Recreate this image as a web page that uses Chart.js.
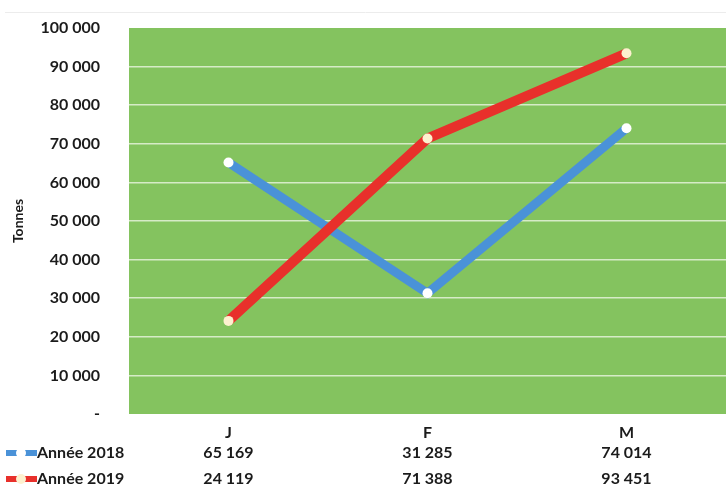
<!DOCTYPE html>
<html>
<head>
<meta charset="utf-8">
<script src="https://cdn.jsdelivr.net/npm/chart.js@4"></script>
<style>
  html, body { margin: 0; padding: 0; background: #fff; overflow: hidden; }
  #wrap { width: 726px; height: 492px; position: relative; }
  canvas { display: block; }
</style>
</head>
<body>
<div id="wrap"><canvas id="c" width="726" height="492"></canvas></div>
<script>
const months = ['J', 'F', 'M'];
const series2018 = [65169, 31285, 74014];
const series2019 = [24119, 71388, 93451];
const seriesNames = ['Année 2018', 'Année 2019'];
const yTicks = [0, 10000, 20000, 30000, 40000, 50000, 60000, 70000, 80000, 90000, 100000];

const FONT = 'Lato, "Open Sans", sans-serif';
const TEXT = '#1b1b1b';
const BLUE = '#4a92d8';
const RED = '#e8302b';
const PLOT_BG = '#84c35f';

function fmt(v) {
  if (v === 0) return '-';
  return String(v).replace(/\B(?=(\d{3})+(?!\d))/g, ' ');
}

// axes keep no extra edge padding, so the plot spans exactly the layout box
function noEdgePadding(s) {
  s.paddingTop = 0; s.paddingBottom = 0; s.paddingLeft = 0; s.paddingRight = 0;
}

// green plot background + faint rule above the chart
const backdrop = {
  id: 'backdrop',
  beforeDraw(chart) {
    const { ctx, chartArea: a } = chart;
    ctx.save();
    ctx.fillStyle = PLOT_BG;
    ctx.fillRect(a.left, a.top, a.right - a.left, a.bottom - a.top);
    ctx.strokeStyle = '#ececec';
    ctx.lineWidth = 1;
    ctx.beginPath();
    ctx.moveTo(5, 12.5);
    ctx.lineTo(726, 12.5);
    ctx.stroke();
    ctx.restore();
  }
};

// data table under the axis, with legend keys
const dataTable = {
  id: 'dataTable',
  afterDraw(chart) {
    const { ctx } = chart;
    const xs = chart.scales.x;
    const rows = [
      { name: seriesNames[0], vals: series2018, line: BLUE, dot: '#ffffff', y: 453 },
      { name: seriesNames[1], vals: series2019, line: RED, dot: '#fdf1cf', y: 479 }
    ];
    ctx.save();
    ctx.font = 'bold 16px ' + FONT;
    ctx.fillStyle = TEXT;
    ctx.textBaseline = 'middle';
    rows.forEach(r => {
      // key
      ctx.strokeStyle = r.line;
      ctx.lineWidth = 6;
      ctx.lineCap = 'butt';
      ctx.beginPath();
      ctx.moveTo(6, r.y);
      ctx.lineTo(37, r.y);
      ctx.stroke();
      ctx.fillStyle = r.dot;
      ctx.beginPath();
      ctx.arc(21, r.y, 5, 0, Math.PI * 2);
      ctx.fill();
      // label
      ctx.fillStyle = TEXT;
      ctx.textAlign = 'left';
      ctx.fillText(r.name, 37, r.y);
      // values
      ctx.textAlign = 'center';
      r.vals.forEach((v, i) => {
        ctx.fillText(fmt(v), xs.getPixelForValue(i), r.y);
      });
    });
    ctx.restore();
  }
};

new Chart(document.getElementById('c'), {
  type: 'line',
  data: {
    labels: months,
    datasets: [
      {
        label: seriesNames[0],
        data: series2018,
        borderColor: BLUE,
        borderWidth: 9,
        pointBackgroundColor: '#ffffff',
        pointBorderColor: '#ffffff',
        pointRadius: 5,
        pointBorderWidth: 0,
        order: 1
      },
      {
        label: seriesNames[1],
        data: series2019,
        borderColor: RED,
        borderWidth: 10,
        pointBackgroundColor: '#fdf1cf',
        pointBorderColor: '#fdf1cf',
        pointRadius: 5,
        pointBorderWidth: 0,
        order: 0
      }
    ]
  },
  options: {
    responsive: false,
    animation: false,
    layout: { autoPadding: false, padding: { top: 28, left: 0, right: 0, bottom: 50 } },
    plugins: { legend: { display: false }, tooltip: { enabled: false } },
    scales: {
      x: {
        offset: true,
        grid: { display: false },
        border: { display: false },
        ticks: { color: TEXT, font: { family: FONT, size: 16, weight: 'bold' }, padding: 1 },
        afterFit(s) { s.height = 28; noEdgePadding(s); }
      },
      y: {
        min: 0,
        max: 100000,
        afterBuildTicks(s) { s.ticks = yTicks.map(v => ({ value: v })); },
        border: { display: false },
        grid: {
          drawTicks: false,
          lineWidth: 1.5,
          color: c => (c.tick.value === 0 || c.tick.value === 100000) ? 'rgba(0,0,0,0)' : 'rgba(235,245,225,0.8)'
        },
        ticks: {
          color: TEXT,
          font: { family: FONT, size: 16, weight: 'bold' },
          padding: 29,
          callback: v => fmt(v)
        },
        title: {
          display: true,
          text: 'Tonnes',
          color: TEXT,
          font: { family: FONT, size: 14, weight: 'bold' },
          padding: { top: 10, bottom: 0 }
        },
        afterFit(s) { s.width = 129; noEdgePadding(s); }
      }
    }
  },
  plugins: [backdrop, dataTable]
});
</script>
</body>
</html>
